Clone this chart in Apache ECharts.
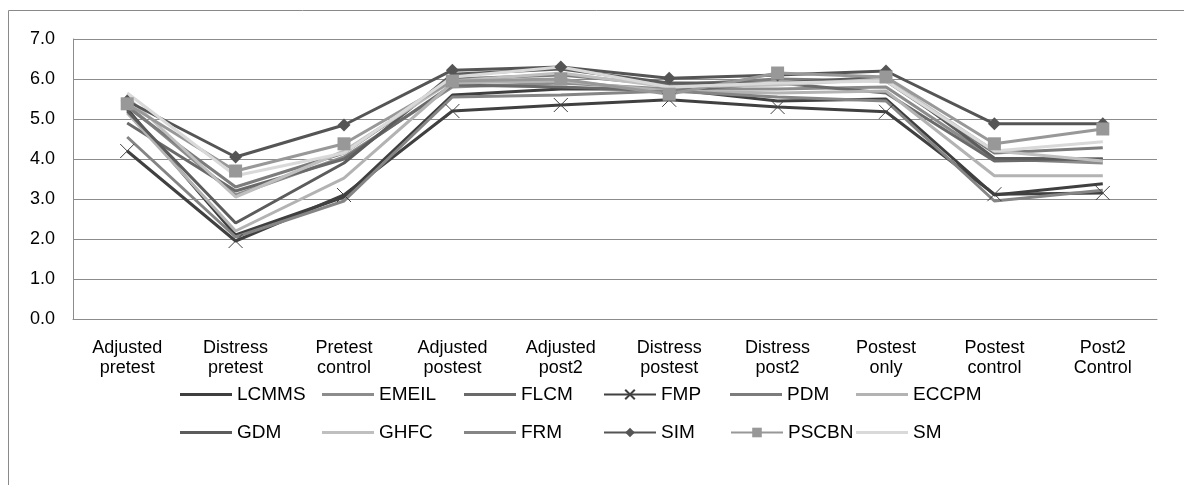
<!DOCTYPE html>
<html>
<head>
<meta charset="utf-8">
<script src="https://cdn.jsdelivr.net/npm/echarts@6/dist/echarts.min.js"></script>
<style>html,body{margin:0;padding:0;background:#fff;}#c{width:1184px;height:485px;}</style>
</head>
<body>
<div id="c"></div>
<script>
var categories = ['Adjusted\npretest','Distress\npretest','Pretest\ncontrol','Adjusted\npostest','Adjusted\npost2','Distress\npostest','Distress\npost2','Postest\nonly','Postest\ncontrol','Post2\nControl'];
var yTicks = [0,1,2,3,4,5,6,7];

var LCMMS = [5.25, 2.10, 3.05, 5.60, 5.75, 5.75, 5.45, 5.50, 3.10, 3.38];
var EMEIL = [5.35, 3.10, 4.05, 5.80, 5.90, 5.75, 5.75, 5.80, 4.00, 3.90];
var FLCM  = [4.90, 3.20, 4.00, 5.85, 5.80, 5.70, 5.90, 5.65, 3.95, 4.00];
var FMP   = [4.20, 1.95, 3.10, 5.20, 5.35, 5.48, 5.30, 5.18, 3.12, 3.15];
var PDM   = [5.30, 3.30, 4.15, 6.00, 6.10, 5.85, 6.00, 5.95, 4.15, 4.28];
var ECCPM = [5.15, 2.20, 3.52, 5.90, 5.95, 5.70, 5.65, 5.70, 3.58, 3.58];
var GDM   = [5.20, 2.40, 3.90, 6.12, 6.25, 5.90, 5.90, 6.05, 4.02, 4.00];
var GHFC  = [5.55, 3.05, 4.20, 5.95, 6.15, 5.80, 5.85, 6.00, 4.20, 3.95];
var FRM   = [4.55, 2.05, 2.95, 5.55, 5.60, 5.70, 5.55, 5.45, 2.95, 3.22];
var SIM   = [5.45, 4.05, 4.85, 6.22, 6.30, 6.02, 6.10, 6.20, 4.88, 4.88];
var PSCBN = [5.38, 3.70, 4.38, 5.95, 6.00, 5.62, 6.15, 6.05, 4.38, 4.75];
var SM    = [5.65, 3.58, 4.15, 6.05, 6.30, 5.80, 5.90, 5.95, 4.20, 4.43];

var names = ['LCMMS','EMEIL','FLCM','FMP','PDM','ECCPM','GDM','GHFC','FRM','SIM','PSCBN','SM'];
var datas = [LCMMS,EMEIL,FLCM,FMP,PDM,ECCPM,GDM,GHFC,FRM,SIM,PSCBN,SM];
var colors = ['#3f3f3f','#8c8c8c','#6a6a6a','#404040','#7c7c7c','#b3b3b3','#5c5c5c','#bfbfbf','#858585','#555555','#989898','#d9d9d9'];
var withMarker = {FMP: true, SIM: true, PSCBN: true};

var FONT = '"Liberation Sans", Arial, sans-serif';

var series = names.map(function(n, i){
  var s = {
    name: n, type: 'line', data: datas[i],
    symbol: 'none', symbolSize: 10,
    lineStyle: {width: 3, color: colors[i]},
    itemStyle: {color: colors[i]},
    emphasis: {disabled: true},
    animation: false
  };
  if (n === 'FMP') {
    s.symbol = 'path://M0,0L10,10M10,0L0,10';
    s.symbolSize = 14;
    s.itemStyle = {color: 'rgba(0,0,0,0)', borderColor: '#404040', borderWidth: 1};
  } else if (n === 'SIM') {
    s.symbol = 'diamond';
    s.symbolSize = 13;
  } else if (n === 'PSCBN') {
    s.symbol = 'rect';
    s.symbolSize = 13;
  }
  return s;
});

var colLeft = [180, 322, 464, 603, 730, 856];
var legends = names.map(function(n, i){
  var row = i < 6 ? 0 : 1;
  var col = i % 6;
  var marked = !!withMarker[n];
  return {
    data: marked ? [n] : [{name: n, icon: 'rect'}],
    left: colLeft[col], top: row === 0 ? 385 : 423,
    padding: 0,
    itemWidth: 52, itemHeight: marked ? 12 : 3, itemGap: 0,
    textStyle: {fontFamily: FONT, fontSize: 19, color: '#000'},
    selectedMode: false
  };
});

var chart = echarts.init(document.getElementById('c'), null, {renderer: 'canvas'});
chart.setOption({
  animation: false,
  backgroundColor: '#fff',
  graphic: [{type: 'rect', shape: {x: 8.5, y: 10.5, width: 1300, height: 600}, style: {fill: 'none', stroke: '#8a8a8a', lineWidth: 1}, silent: true}],
  grid: {left: 73, right: 27, top: 39, bottom: 166, containLabel: false},
  legend: legends,
  xAxis: {
    type: 'category', data: categories, boundaryGap: true,
    axisLine: {show: true, lineStyle: {color: '#8c8c8c', width: 1}},
    axisTick: {show: false},
    axisLabel: {fontFamily: FONT, fontSize: 18, color: '#000', margin: 19, lineHeight: 20, interval: 0}
  },
  yAxis: {
    type: 'value', min: yTicks[0], max: yTicks[yTicks.length-1], interval: 1,
    axisLine: {show: true, lineStyle: {color: '#8c8c8c', width: 1}},
    axisTick: {show: false},
    splitLine: {show: true, lineStyle: {color: '#8c8c8c', width: 1}},
    axisLabel: {fontFamily: FONT, fontSize: 18, color: '#000', margin: 18, formatter: function(v){return v.toFixed(1);}}
  },
  series: series
});
</script>
</body>
</html>
